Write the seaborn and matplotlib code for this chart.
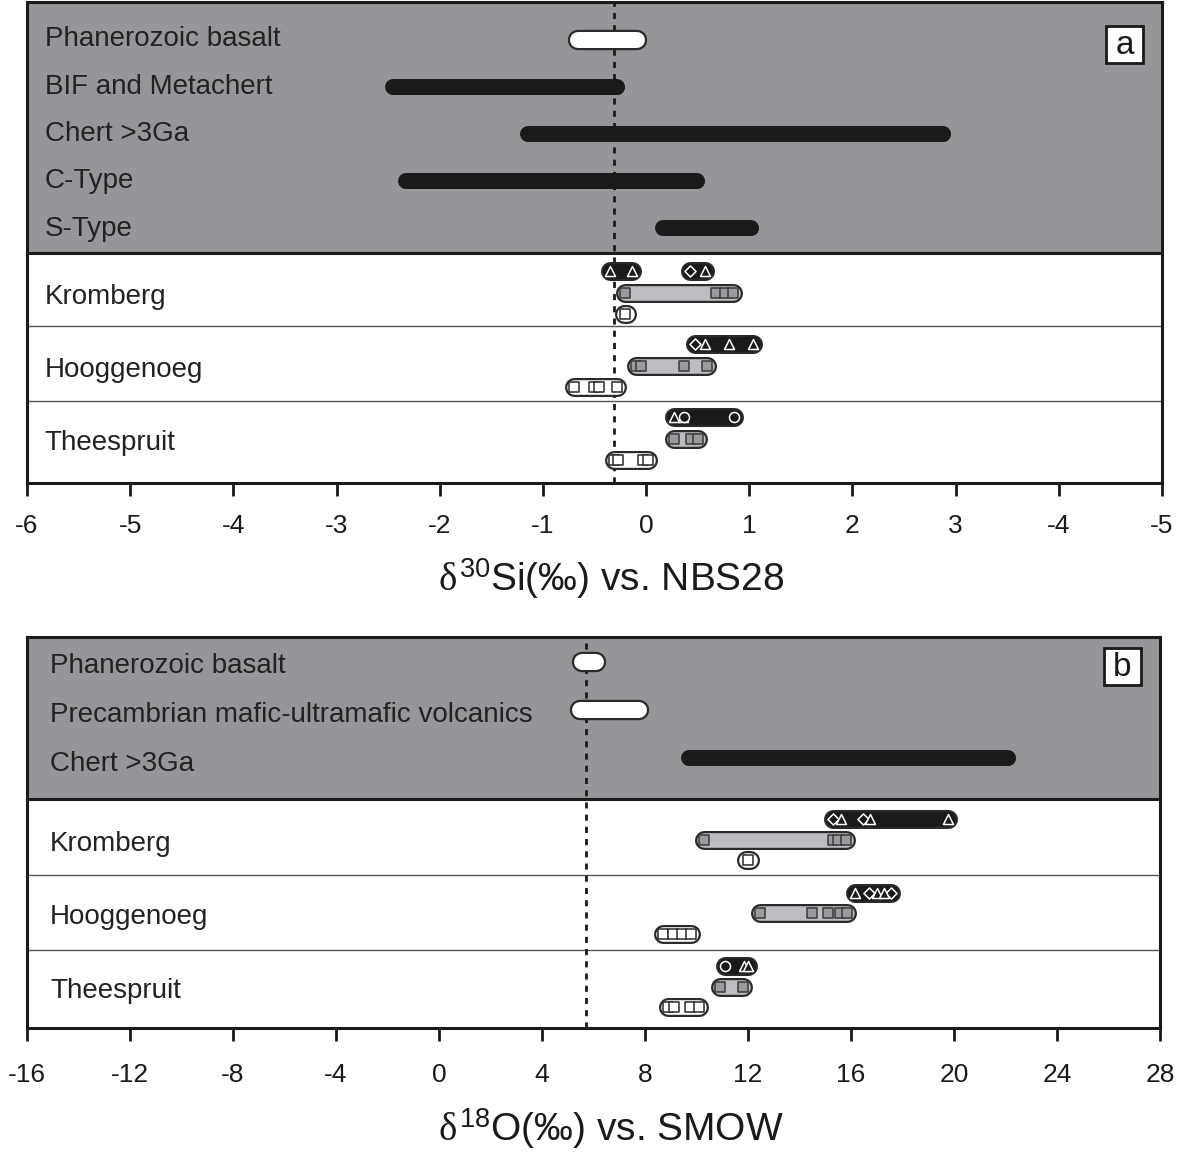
import matplotlib
matplotlib.use("Agg")
import matplotlib.pyplot as plt
import matplotlib.patches as mpatches
import seaborn as sns
import pandas as pd

sns.set_theme(style="white")
plt.rcParams["font.family"] = ["Liberation Sans", "DejaVu Sans"]
plt.rcParams["mathtext.fontset"] = "custom"
plt.rcParams["mathtext.rm"] = "Liberation Sans"
plt.rcParams["mathtext.it"] = "Liberation Serif"

# ---- panel a: d30Si ----
A_REF_NAMES = ["Phanerozoic basalt", "BIF and Metachert", "Chert >3Ga", "C-Type", "S-Type"]
A_REF_LOW = [-0.66, -2.45, -1.14, -2.33, 0.16]
A_REF_HIGH = [-0.09, -0.28, 2.88, 0.49, 1.02]
A_REF_FILL = ["white", "black", "black", "black", "black"]
A_DASH = -0.31
A_TICKS = [-6, -5, -4, -3, -2, -1, 0, 1, 2, 3, 4, 5]
A_TICKLABELS = ["-6", "-5", "-4", "-3", "-2", "-1", "0", "1", "2", "3", "-4", "-5"]

# ---- panel b: d18O ----
B_REF_NAMES = ["Phanerozoic basalt", "Precambrian mafic-ultramafic volcanics", "Chert >3Ga"]
B_REF_LOW = [5.55, 5.48, 9.71]
B_REF_HIGH = [6.10, 7.77, 22.10]
B_REF_FILL = ["white", "white", "black"]
B_DASH = 5.71
B_TICKS = [-16, -12, -8, -4, 0, 4, 8, 12, 16, 20, 24, 28]

GROUPS = ["Kromberg", "Hooggenoeg", "Theespruit"]

# samples: (group, lane, segment, value, marker); lane 0 = black, 1 = grey, 2 = white
A_SAMPLES = [
    ("Kromberg", 0, 0, -0.35, "^"), ("Kromberg", 0, 0, -0.14, "^"),
    ("Kromberg", 0, 1, 0.43, "D"), ("Kromberg", 0, 1, 0.57, "^"),
    ("Kromberg", 1, 0, -0.20, "s"), ("Kromberg", 1, 0, 0.68, "s"),
    ("Kromberg", 1, 0, 0.76, "s"), ("Kromberg", 1, 0, 0.84, "s"),
    ("Kromberg", 2, 0, -0.20, "s"),
    ("Hooggenoeg", 0, 0, 0.47, "D"), ("Hooggenoeg", 0, 0, 0.57, "^"),
    ("Hooggenoeg", 0, 0, 0.80, "^"), ("Hooggenoeg", 0, 0, 1.04, "^"),
    ("Hooggenoeg", 1, 0, -0.10, "s"), ("Hooggenoeg", 1, 0, -0.05, "s"),
    ("Hooggenoeg", 1, 0, 0.37, "s"), ("Hooggenoeg", 1, 0, 0.59, "s"),
    ("Hooggenoeg", 2, 0, -0.70, "s"), ("Hooggenoeg", 2, 0, -0.50, "s"),
    ("Hooggenoeg", 2, 0, -0.46, "s"), ("Hooggenoeg", 2, 0, -0.28, "s"),
    ("Theespruit", 0, 0, 0.27, "^"), ("Theespruit", 0, 0, 0.36, "^"),
    ("Theespruit", 0, 0, 0.37, "o"), ("Theespruit", 0, 0, 0.85, "o"),
    ("Theespruit", 1, 0, 0.27, "s"), ("Theespruit", 1, 0, 0.44, "s"),
    ("Theespruit", 1, 0, 0.50, "s"),
    ("Theespruit", 2, 0, -0.31, "s"), ("Theespruit", 2, 0, -0.27, "s"),
    ("Theespruit", 2, 0, -0.03, "s"), ("Theespruit", 2, 0, 0.02, "s"),
]

B_SAMPLES = [
    ("Kromberg", 0, 0, 15.30, "D"), ("Kromberg", 0, 0, 15.61, "^"),
    ("Kromberg", 0, 0, 16.47, "D"), ("Kromberg", 0, 0, 16.74, "^"),
    ("Kromberg", 0, 0, 19.77, "^"),
    ("Kromberg", 1, 0, 10.29, "s"), ("Kromberg", 1, 0, 15.30, "s"),
    ("Kromberg", 1, 0, 15.50, "s"), ("Kromberg", 1, 0, 15.81, "s"),
    ("Kromberg", 2, 0, 12.00, "s"),
    ("Hooggenoeg", 0, 0, 16.16, "^"), ("Hooggenoeg", 0, 0, 16.70, "D"),
    ("Hooggenoeg", 0, 0, 17.01, "^"), ("Hooggenoeg", 0, 0, 17.28, "^"),
    ("Hooggenoeg", 0, 0, 17.55, "D"),
    ("Hooggenoeg", 1, 0, 12.47, "s"), ("Hooggenoeg", 1, 0, 14.49, "s"),
    ("Hooggenoeg", 1, 0, 15.11, "s"), ("Hooggenoeg", 1, 0, 15.57, "s"),
    ("Hooggenoeg", 1, 0, 15.84, "s"),
    ("Hooggenoeg", 2, 0, 8.70, "s"), ("Hooggenoeg", 2, 0, 9.09, "s"),
    ("Hooggenoeg", 2, 0, 9.44, "s"), ("Hooggenoeg", 2, 0, 9.79, "s"),
    ("Theespruit", 0, 0, 11.11, "o"), ("Theespruit", 0, 0, 11.84, "^"),
    ("Theespruit", 0, 0, 12.00, "^"),
    ("Theespruit", 1, 0, 10.91, "s"), ("Theespruit", 1, 0, 11.81, "s"),
    ("Theespruit", 2, 0, 8.89, "s"), ("Theespruit", 2, 0, 9.13, "s"),
    ("Theespruit", 2, 0, 9.75, "s"), ("Theespruit", 2, 0, 10.10, "s"),
]

GREY_BG = "#96969a"
EDGE = "#2a2a2a"
LANE_FILL = ["#1a1a1a", "#bcbdc0", "white"]
MARK_FACE = ["#1a1a1a", "#9a9b9e", "white"]
MARK_EDGE = ["white", "#3a3a3a", "#2a2a2a"]


def capsule(ax, x0, x1, y, fill, width, outline=EDGE, ow=1.6):
    if x1 - x0 < 1e-9:
        eps = (ax.get_xlim()[1] - ax.get_xlim()[0]) * 0.0015
        x0, x1 = x0 - eps, x1 + eps
    ax.plot([x0, x1], [y, y], color=outline, lw=width + 2 * ow,
            solid_capstyle="round", zorder=3)
    ax.plot([x0, x1], [y, y], color=fill, lw=width,
            solid_capstyle="round", zorder=4)


def draw_panel(ax, names, lows, highs, fills, samples, layout, xlim, ticks, ticklabels,
               dash, xlabel, tag, label_x, pad):
    (top, ref_y0, ref_dy, lab_y0, lab_dy, grey_bot, lane_y0, group_dy, lane_dy,
     seps, bottom) = layout
    ax.set_xlim(*xlim)
    ax.set_ylim(bottom, top)
    ax.axhspan(top, grey_bot, color=GREY_BG, zorder=0, lw=0)
    ax.axhline(grey_bot, color="#1a1a1a", lw=2.2, zorder=2)
    for s in seps:
        ax.axhline(s, color="#555555", lw=1.0, zorder=2)
    ax.axvline(dash, color="#1a1a1a", lw=2.0, ls=(0, (2.2, 2.2)), zorder=2.5)

    for i, name in enumerate(names):
        y = ref_y0 + i * ref_dy
        if fills[i] == "white":
            capsule(ax, lows[i], highs[i], y, "white", 11.5)
        else:
            capsule(ax, lows[i], highs[i], y, "#1a1a1a", 10.5, outline="#1a1a1a", ow=0.5)
        ax.text(label_x, lab_y0 + i * lab_dy, name, fontsize=20, ha="left",
                va="center", color="#222222")

    df = pd.DataFrame(samples, columns=["group", "lane", "seg", "value", "marker"])
    df["y"] = [lane_y0 + GROUPS.index(g) * group_dy + l * lane_dy
               for g, l in zip(df["group"], df["lane"])]

    for gi, g in enumerate(GROUPS):
        ax.text(label_x, lane_y0 + gi * group_dy + lane_dy * 1.2, g, fontsize=20,
                ha="left", va="center", color="#222222")

    for (g, lane, seg), sub in df.groupby(["group", "lane", "seg"]):
        capsule(ax, sub["value"].min(), sub["value"].max(), sub["y"].iloc[0],
                LANE_FILL[lane], 10.5)

    for lane in range(3):
        sub = df[df["lane"] == lane]
        for mk in sub["marker"].unique():
            part = sub[sub["marker"] == mk]
            size = 46 if mk == "s" else (32 if mk == "D" else 52)
            sns.scatterplot(data=part, x="value", y="y", marker=mk, s=size,
                            color=MARK_FACE[lane], edgecolor=MARK_EDGE[lane],
                            linewidth=1.1, ax=ax, zorder=5, legend=False)

    ax.set_xticks(ticks)
    ax.set_xticklabels(ticklabels)
    ax.set_yticks([])
    ax.set_ylabel("")
    ax.tick_params(axis="x", direction="out", length=9, width=2, labelsize=19,
                   pad=pad, colors="#1a1a1a", bottom=True)
    for sp in ax.spines.values():
        sp.set_color("#1a1a1a")
        sp.set_linewidth(2.2)
    ax.set_xlabel(xlabel, fontsize=28, labelpad=14, color="#1a1a1a")
    ax.xaxis.label.set_x(0.515)

    # panel tag box
    bw, bh = 37, 37
    trans = ax.transAxes
    aw = ax.get_position().width * fig.bbox.width
    ah = ax.get_position().height * fig.bbox.height
    cx, cy = 1 - 37.5 / aw, 1 - (42 if tag == "a" else 29.5) / ah
    ax.add_patch(mpatches.Rectangle((cx - bw / 2 / aw, cy - bh / 2 / ah), bw / aw, bh / ah,
                                    transform=trans, fc="white", ec="#1a1a1a", lw=2,
                                    zorder=6))
    ax.text(cx, cy - 1.5 / ah, tag, transform=trans, fontsize=24, ha="center",
            va="center", zorder=7, color="#1a1a1a")


fig = plt.figure(figsize=(11.79, 11.59), dpi=100)
ax_a = fig.add_axes([27 / 1179, 1 - 483 / 1159, 1135 / 1179, 481 / 1159])
ax_b = fig.add_axes([27 / 1179, 1 - 1028 / 1159, 1133 / 1179, 391 / 1159])

draw_panel(ax_a, A_REF_NAMES, A_REF_LOW, A_REF_HIGH, A_REF_FILL, A_SAMPLES,
           (2, 40, 47, 39, 47.5, 253, 271, 73, 21.5, [326, 401], 483),
           (-6, 5), A_TICKS, A_TICKLABELS, A_DASH,
           r"$\delta^{30}$Si(‰) vs. NBS28", "a", -5.83, 13)
draw_panel(ax_b, B_REF_NAMES, B_REF_LOW, B_REF_HIGH, B_REF_FILL, B_SAMPLES,
           (637, 662, 48, 666, 49, 799, 819, 73.5, 20.5, [875, 950], 1028),
           (-16, 28), B_TICKS, [str(t) for t in B_TICKS], B_DASH,
           r"$\delta^{18}$O(‰) vs. SMOW", "b", -15.1, 16)

fig.savefig("out.png", dpi=100)
